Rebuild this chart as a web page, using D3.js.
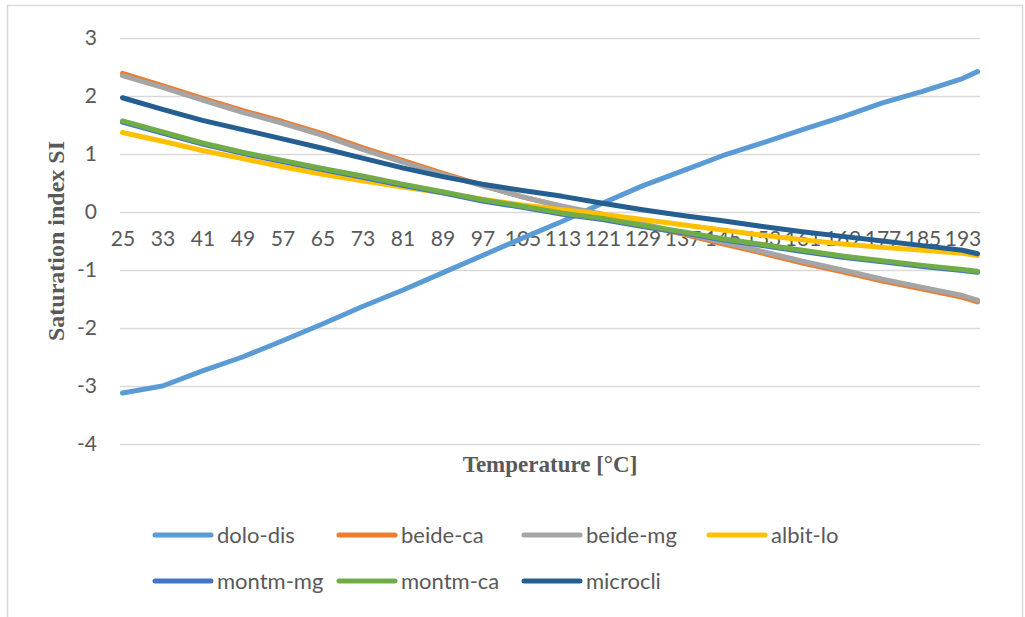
<!DOCTYPE html>
<meta charset="utf-8">
<style>
  body { margin: 0; background: #fff; }
  svg { display: block; }
</style>
<script src="https://d3js.org/d3.v7.min.js"></script>
<div id="my_dataviz"></div>
<script>

// temperatures (every labelled category plus the last one)
var temps = [25, 33, 41, 49, 57, 65, 73, 81, 89, 97, 105, 113, 121, 129, 137, 145, 153, 161, 169, 177, 185, 193, 196];
var xTickLabels = [25, 33, 41, 49, 57, 65, 73, 81, 89, 97, 105, 113, 121, 129, 137, 145, 153, 161, 169, 177, 185, 193];
var yTickLabels = [-4, -3, -2, -1, 0, 1, 2, 3];

var doloDis  = [-3.12, -3.00, -2.74, -2.50, -2.22, -1.93, -1.63, -1.35, -1.05, -0.75, -0.45, -0.16, 0.15, 0.45, 0.71, 0.97, 1.19, 1.42, 1.64, 1.88, 2.08, 2.30, 2.42];
var beideCa  = [2.39, 2.18, 1.96, 1.75, 1.56, 1.35, 1.11, 0.89, 0.67, 0.46, 0.26, 0.09, -0.06, -0.22, -0.38, -0.55, -0.71, -0.88, -1.03, -1.19, -1.33, -1.47, -1.55];
var beideMg  = [2.35, 2.15, 1.93, 1.72, 1.53, 1.32, 1.08, 0.86, 0.65, 0.45, 0.26, 0.10, -0.04, -0.20, -0.36, -0.52, -0.68, -0.85, -1.00, -1.16, -1.30, -1.44, -1.52];
var albitLo  = [1.37, 1.22, 1.06, 0.92, 0.78, 0.65, 0.54, 0.43, 0.33, 0.22, 0.12, 0.04, -0.04, -0.13, -0.22, -0.31, -0.40, -0.48, -0.55, -0.61, -0.66, -0.71, -0.75];
var montmMg  = [1.55, 1.36, 1.17, 1.01, 0.87, 0.73, 0.60, 0.46, 0.33, 0.19, 0.08, -0.04, -0.13, -0.25, -0.36, -0.48, -0.58, -0.68, -0.78, -0.86, -0.94, -1.01, -1.04];
var montmCa  = [1.57, 1.38, 1.19, 1.03, 0.89, 0.75, 0.62, 0.48, 0.35, 0.21, 0.10, -0.02, -0.11, -0.23, -0.34, -0.46, -0.56, -0.66, -0.76, -0.84, -0.92, -0.99, -1.02];
var microcli = [1.97, 1.77, 1.58, 1.42, 1.26, 1.10, 0.93, 0.76, 0.61, 0.48, 0.37, 0.27, 0.15, 0.04, -0.06, -0.15, -0.25, -0.34, -0.42, -0.50, -0.58, -0.66, -0.72];

var seriesNames  = ["dolo-dis", "beide-ca", "beide-mg", "albit-lo", "montm-mg", "montm-ca", "microcli"];
var seriesValues = [doloDis, beideCa, beideMg, albitLo, montmMg, montmCa, microcli];
var seriesColors = ["#5B9BD5", "#ED7D31", "#A5A5A5", "#FFC000", "#4472C4", "#70AD47", "#255E91"];

var W = 1025, H = 617;
var plot = {left: 120, right: 980, top: 38, bottom: 444};

var svg = d3.select("#my_dataviz")
  .append("svg")
    .attr("width", W)
    .attr("height", H);

// chart frame
svg.append("rect")
  .attr("x", 7.5).attr("y", 5.5)
  .attr("width", 1015).attr("height", 620)
  .attr("fill", "none")
  .attr("stroke", "#d9d9d9")
  .attr("stroke-width", 1.5);

// category axis: one slot per degree from 25 to 196
var x = d3.scaleLinear()
  .domain([24.5, 196.5])
  .range([plot.left, plot.right]);

var y = d3.scaleLinear()
  .domain([-4, 3])
  .range([plot.bottom, plot.top]);

// gridlines
svg.append("g")
  .attr("transform", "translate(" + plot.left + ",0)")
  .call(d3.axisLeft(y).tickValues(yTickLabels).tickSize(-(plot.right - plot.left)).tickFormat(""))
  .call(function(g) { g.select(".domain").remove(); })
  .selectAll("line")
    .attr("stroke", "#d9d9d9")
    .attr("stroke-width", 1.5);

// y axis labels (plain hyphen for negatives, like the original)
var yAxis = svg.append("g")
  .attr("transform", "translate(" + plot.left + ",0)")
  .call(d3.axisLeft(y).tickValues(yTickLabels).tickSize(0).tickPadding(23)
    .tickFormat(function(d) { return String(d); }));
yAxis.select(".domain").remove();
yAxis.selectAll("text")
  .attr("fill", "#595959")
  .style("font-family", "Lato, 'Open Sans', sans-serif")
  .style("font-size", "21px");

// x axis labels sit just under the zero line
var xAxis = svg.append("g")
  .attr("transform", "translate(0," + y(0) + ")")
  .call(d3.axisBottom(x).tickValues(xTickLabels).tickSize(0).tickPadding(19)
    .tickFormat(function(d) { return String(d); }));
xAxis.select(".domain").remove();
xAxis.selectAll("text")
  .attr("fill", "#595959")
  .style("font-family", "Lato, 'Open Sans', sans-serif")
  .style("font-size", "21px");

// lines
var line = d3.line()
  .x(function(d, i) { return x(temps[i]); })
  .y(function(d) { return y(d); });

svg.append("g")
  .selectAll("path")
  .data(seriesValues)
  .enter()
  .append("path")
    .attr("fill", "none")
    .attr("stroke", function(d, i) { return seriesColors[i]; })
    .attr("stroke-width", 5)
    .attr("stroke-linecap", "round")
    .attr("stroke-linejoin", "round")
    .attr("d", line);

// axis titles
svg.append("text")
  .attr("x", (plot.left + plot.right) / 2)
  .attr("y", 472)
  .attr("text-anchor", "middle")
  .attr("fill", "#595959")
  .style("font-family", "'Liberation Serif', serif")
  .style("font-weight", "bold")
  .style("font-size", "23px")
  .text("Temperature [°C]");

svg.append("text")
  .attr("transform", "translate(64," + ((plot.top + plot.bottom) / 2) + ") rotate(-90)")
  .attr("text-anchor", "middle")
  .attr("fill", "#595959")
  .style("font-family", "'Liberation Serif', serif")
  .style("font-weight", "bold")
  .style("font-size", "24px")
  .text("Saturation index SI");

// legend: 4 columns, 2 rows
var legendCols = [155, 339, 524, 709];
var legendRows = [535, 581];

var legend = svg.append("g")
  .selectAll("g")
  .data(seriesNames)
  .enter()
  .append("g")
    .attr("transform", function(d, i) {
      return "translate(" + legendCols[i % 4] + "," + legendRows[Math.floor(i / 4)] + ")";
    });

legend.append("line")
  .attr("x1", 0).attr("x2", 56)
  .attr("stroke", function(d, i) { return seriesColors[i]; })
  .attr("stroke-width", 5)
  .attr("stroke-linecap", "round");

legend.append("text")
  .attr("x", 62)
  .attr("dy", "0.35em")
  .attr("fill", "#595959")
  .style("font-family", "Lato, 'Open Sans', sans-serif")
  .style("font-size", "22px")
  .text(function(d) { return d; });

</script>
